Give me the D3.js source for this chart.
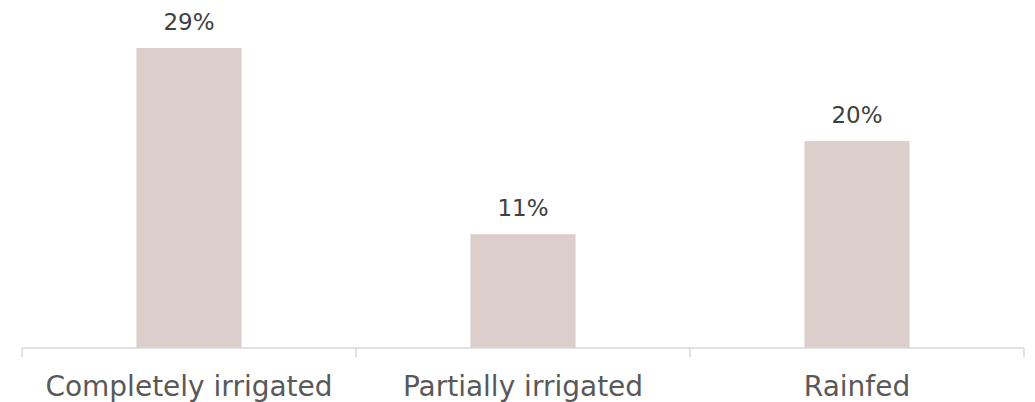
<!DOCTYPE html>
<html>
<head>
<meta charset="utf-8">
<script src="https://cdn.jsdelivr.net/npm/d3@7"></script>
<style>
  html, body { margin: 0; padding: 0; background: #ffffff; }
  svg { display: block; }
  text { font-family: "DejaVu Sans", sans-serif; }
</style>
</head>
<body>
<div id="chart"></div>
<script>
// Share of farms by irrigation type
const categories = ["Completely irrigated", "Partially irrigated", "Rainfed"];
const values = [29, 11, 20];
const valueLabels = ["29%", "11%", "20%"];

const width = 1035, height = 402;
const margin = { top: 48, right: 11, bottom: 54, left: 22 };

const svg = d3.select("#chart").append("svg")
  .attr("width", width)
  .attr("height", height);

const x = d3.scaleBand()
  .domain(categories)
  .range([margin.left, width - margin.right])
  .paddingInner(0)
  .paddingOuter(0);

const y = d3.scaleLinear()
  .domain([0, d3.max(values)])
  .range([height - margin.bottom, margin.top]);

const barFrac = 0.315;
const barW = x.bandwidth() * barFrac;

// bars
svg.append("g").selectAll("rect")
  .data(categories)
  .join("rect")
  .attr("x", (d) => x(d) + (x.bandwidth() - barW) / 2)
  .attr("y", (d, i) => y(values[i]))
  .attr("width", barW)
  .attr("height", (d, i) => y(0) - y(values[i]))
  .attr("fill", "#dccfcb");

// value labels
svg.append("g").selectAll("text")
  .data(categories)
  .join("text")
  .attr("x", (d) => x(d) + x.bandwidth() / 2)
  .attr("y", (d, i) => y(values[i]) - 18)
  .attr("text-anchor", "middle")
  .attr("font-size", 23)
  .attr("fill", "#404040")
  .text((d, i) => valueLabels[i]);

// category axis with tick marks at band boundaries
const axisY = y(0);
const axisG = svg.append("g");
axisG.append("line")
  .attr("x1", margin.left).attr("x2", width - margin.right)
  .attr("y1", axisY).attr("y2", axisY)
  .attr("stroke", "#d9d9d9").attr("stroke-width", 1.5);

const boundaries = categories.map((d) => x(d)).concat([x(categories[categories.length - 1]) + x.bandwidth()]);
axisG.selectAll("line.tick")
  .data(boundaries)
  .join("line")
  .attr("class", "tick")
  .attr("x1", (d) => d).attr("x2", (d) => d)
  .attr("y1", axisY).attr("y2", axisY + 9)
  .attr("stroke", "#d9d9d9").attr("stroke-width", 1.5);

axisG.selectAll("text")
  .data(categories)
  .join("text")
  .attr("x", (d) => x(d) + x.bandwidth() / 2)
  .attr("y", axisY + 48)
  .attr("text-anchor", "middle")
  .attr("font-size", 28)
  .attr("fill", "#595959")
  .text((d) => d);
</script>
</body>
</html>
